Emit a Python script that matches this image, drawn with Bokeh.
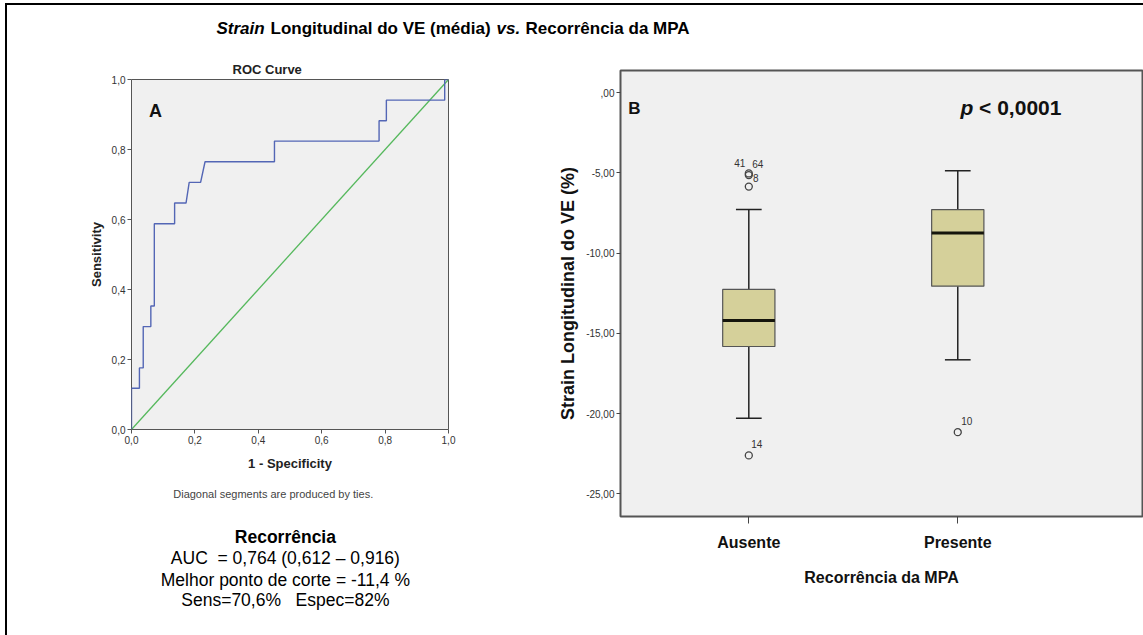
from bokeh.plotting import figure
from bokeh.layouts import column, row
from bokeh.models import (Range1d, FixedTicker, CustomJSTickFormatter, Label, Title,
                          ColumnDataSource, Div, Spacer)
from bokeh.core.properties import value
from bokeh.embed import file_html
from bokeh.resources import INLINE

FONT = "Liberation Sans"
PANEL_BG = "#f0f0f0"

# ---- ROC curve: 1 - specificity vs. sensitivity ----
roc_fpr = [0.0, 0.0, 0.025, 0.025, 0.037, 0.037, 0.061, 0.061, 0.072, 0.072,
           0.136, 0.136, 0.172, 0.182, 0.218, 0.232, 0.451, 0.451, 0.781, 0.781,
           0.804, 0.804, 0.988, 0.988, 1.0]
roc_tpr = [0.0, 0.118, 0.118, 0.176, 0.176, 0.294, 0.294, 0.353, 0.353, 0.588,
           0.588, 0.647, 0.647, 0.706, 0.706, 0.765, 0.765, 0.824, 0.824, 0.882,
           0.882, 0.941, 0.941, 1.0, 1.0]
chance_x = [0.0, 1.0]
chance_y = [0.0, 1.0]
roc_ticks = [0.0, 0.2, 0.4, 0.6, 0.8, 1.0]

# ---- Box plot: LV longitudinal strain by MPA recurrence ----
groups = ["Ausente", "Presente"]
whisker_low = [-20.29, -16.65]
box_q1 = [-15.82, -12.06]
box_median = [-14.20, -8.75]
box_q3 = [-12.26, -7.28]
whisker_high = [-7.28, -4.86]
outlier_group = ["Ausente", "Ausente", "Ausente", "Ausente", "Presente"]
outlier_value = [-5.03, -5.13, -5.85, -22.61, -21.16]
outlier_case = ["41", "64", "8", "14", "10"]
strain_ticks = [0, -5, -10, -15, -20, -25]

# case-number label placement (pixels)
case_dx = [-9, 9, 7, 8, 9]
case_dy = [-10, -11, -9, -11, -11]

BOX_W = 0.25
CAP_W = 0.123

LEFT_W = 548
RIGHT_W = 1136 - LEFT_W

# ======================= ROC panel =======================
roc = figure(width=LEFT_W, height=435, x_range=Range1d(0, 1), y_range=Range1d(0, 1),
             output_backend="svg", toolbar_location=None,
             min_border_left=124, min_border_right=LEFT_W - 441, min_border_top=29,
             min_border_bottom=56, background_fill_color=PANEL_BG,
             border_fill_color="white", outline_line_color="#555",
             outline_line_width=1)
roc.title = Title(text="ROC Curve", align="left", offset=101, standoff=6,
                  text_font=FONT, text_font_size="13px", text_font_style="bold",
                  text_color="#222")
roc.grid.visible = False
roc.line(chance_x, chance_y, line_color="#55b85c", line_width=1.3)
roc.line(roc_fpr, roc_tpr, line_color="#5366b5", line_width=1.4)

for ax in (roc.xaxis[0], roc.yaxis[0]):
    ax.ticker = FixedTicker(ticks=roc_ticks)
    ax.formatter = CustomJSTickFormatter(code="return tick.toFixed(1).replace('.', ',');")
    ax.minor_tick_line_color = None
    ax.axis_line_color = None
    ax.major_tick_in = 0
    ax.major_tick_out = 4
    ax.major_tick_line_color = "#555"
    ax.major_label_text_font = FONT
    ax.major_label_text_font_size = "10px"
    ax.major_label_text_color = "#333"
    ax.major_label_standoff = 2
    ax.axis_label_text_font = FONT
    ax.axis_label_text_font_style = "bold"
    ax.axis_label_text_font_size = "13px"
    ax.axis_label_text_color = "#222"
roc.xaxis.axis_label = "1 - Specificity"
roc.yaxis.axis_label = "Sensitivity"
roc.xaxis.axis_label_standoff = 9
roc.yaxis.axis_label_standoff = 5

roc.add_layout(Label(x=0.076, y=0.911, text="A", text_align="center",
                     text_baseline="middle", text_font=FONT, text_font_size="18px",
                     text_font_style="bold", text_color="#111"))

# ======================= notes under the ROC panel =======================
notes = figure(width=LEFT_W, height=150, x_range=Range1d(0, LEFT_W), y_range=Range1d(150, 0),
               output_backend="svg", toolbar_location=None, min_border=0,
               x_axis_location=None, y_axis_location=None,
               outline_line_color=None, background_fill_color="white",
               border_fill_color="white")
notes.grid.visible = False
notes.add_layout(Label(x=245, y=8, text="Diagonal segments are produced by ties.",
                       text_align="center", text_baseline="middle", text_font=FONT,
                       text_font_size="11px", text_color="#444"))
summary_lines = ["Recorrência",
                 "AUC\u00a0 = 0,764 (0,612 – 0,916)",
                 "Melhor ponto de corte = -11,4 %",
                 "Sens=70,6%\u00a0\u00a0\u00a0Espec=82%"]
summary_y = [51.7, 72.3, 94, 114]
for i, (txt, yy) in enumerate(zip(summary_lines, summary_y)):
    notes.add_layout(Label(x=266, y=yy, text=txt, text_align="center",
                           text_baseline="middle", text_font=FONT,
                           text_font_size="17.5px",
                           text_font_style="bold" if i == 0 else "normal",
                           text_color="#000"))

# ======================= box-plot panel =======================
pos = [i + 1 for i in range(len(groups))]
box = figure(width=RIGHT_W, height=585, x_range=Range1d(0.386, 2.884),
             y_range=Range1d(-26.42, 1.39), output_backend="svg",
             toolbar_location=None, min_border_left=65, min_border_right=RIGHT_W - 65 - 522,
             min_border_top=20, min_border_bottom=119,
             background_fill_color=PANEL_BG, border_fill_color="white",
             outline_line_color="#555", outline_line_width=2)
box.grid.visible = False

stats = ColumnDataSource(dict(
    x=pos, low=whisker_low, q1=box_q1, med=box_median, q3=box_q3, high=whisker_high,
    cap0=[p - CAP_W / 2 for p in pos], cap1=[p + CAP_W / 2 for p in pos],
    m0=[p - BOX_W / 2 for p in pos], m1=[p + BOX_W / 2 for p in pos]))

box.segment(x0="x", y0="q3", x1="x", y1="high", source=stats, line_color="#222", line_width=1.5)
box.segment(x0="x", y0="q1", x1="x", y1="low", source=stats, line_color="#222", line_width=1.5)
box.segment(x0="cap0", y0="high", x1="cap1", y1="high", source=stats, line_color="#222", line_width=1.5)
box.segment(x0="cap0", y0="low", x1="cap1", y1="low", source=stats, line_color="#222", line_width=1.5)
box.vbar(x="x", width=BOX_W, bottom="q1", top="q3", source=stats,
         fill_color="#d5d09a", line_color="#555", line_width=1.2)
box.segment(x0="m0", y0="med", x1="m1", y1="med", source=stats, line_color="#15150c", line_width=3)

out_src = ColumnDataSource(dict(
    x=[groups.index(g) + 1 for g in outlier_group], y=outlier_value,
    case=outlier_case, dx=case_dx, dy=case_dy))
box.scatter(x="x", y="y", source=out_src, marker="circle", size=7,
            fill_color=None, line_color="#444", line_width=1.3)
box.text(x="x", y="y", text="case", source=out_src, x_offset="dx", y_offset="dy",
         text_align="center", text_baseline="middle", text_font=value(FONT),
         text_font_size="10px", text_color="#333")

xa = box.xaxis[0]
xa.ticker = FixedTicker(ticks=pos)
xa.formatter = CustomJSTickFormatter(args=dict(names=groups),
                                     code="return names[Math.round(tick) - 1];")
xa.major_tick_in = 0
xa.major_tick_out = 7
xa.major_label_standoff = 10
xa.major_label_text_font_size = "16px"
xa.axis_label = "Recorrência da MPA"
xa.axis_label_standoff = 15

ya = box.yaxis[0]
ya.ticker = FixedTicker(ticks=strain_ticks)
ya.formatter = CustomJSTickFormatter(
    code="if (tick == 0) { return ',00'; } return tick.toFixed(2).replace('.', ',');")
ya.major_tick_in = 0
ya.major_tick_out = 4
ya.major_label_standoff = 2
ya.major_label_text_font_size = "10px"
ya.axis_label = "Strain Longitudinal do VE (%)"
ya.axis_label_standoff = 5

for ax in (xa, ya):
    ax.minor_tick_line_color = None
    ax.axis_line_color = None
    ax.major_tick_line_color = "#444"
    ax.major_label_text_font = FONT
    ax.axis_label_text_font = FONT
    ax.axis_label_text_font_style = "bold"
    ax.axis_label_text_color = "#111"
ya.major_label_text_color = "#333"
xa.major_label_text_color = "#111"
xa.major_label_text_font_style = "bold"
xa.axis_label_text_font_size = "16px"
ya.axis_label_text_font_size = "18px"

box.add_layout(Label(x=0.453, y=-0.96, text="B", text_align="center",
                     text_baseline="middle", text_font=FONT, text_font_size="17px",
                     text_font_style="bold", text_color="#111"))
box.add_layout(Label(x=2.013, y=-0.898, text="p", text_align="left",
                     text_baseline="middle", text_font=FONT, text_font_size="21px",
                     text_font_style="bold italic", text_color="#111"))
box.add_layout(Label(x=2.102, y=-0.898, text="< 0,0001", text_align="left",
                     text_baseline="middle", text_font=FONT, text_font_size="21px",
                     text_font_style="bold", text_color="#111"))

# ======================= heading =======================
head = figure(width=1136, height=45, x_range=Range1d(0, 1136), y_range=Range1d(45, 0),
              output_backend="svg", toolbar_location=None, min_border=0,
              x_axis_location=None, y_axis_location=None,
              outline_line_color=None, background_fill_color="white",
              border_fill_color="white")
head.grid.visible = False
title_parts = [("Strain", "bold italic", 209.0),
               ("Longitudinal do VE (média)", "bold", 263.0),
               ("vs.", "bold italic", 489.0),
               ("Recorrência da MPA", "bold", 518.0)]
for txt, style, xx in title_parts:
    head.add_layout(Label(x=xx, y=23, text=txt, text_align="left",
                          text_baseline="middle", text_font=FONT,
                          text_font_size="17px", text_font_style=style,
                          text_color="#000"))

# ======================= page layout with frame rule =======================
rule_left = Div(width=2, height=632, margin=0, styles={"background-color": "#000"})
rule_top = Div(width=1136, height=2, margin=0, styles={"background-color": "#000"})

inner = column(rule_top, head, row(column(roc, notes), box))
page = column(Spacer(width=1143, height=3),
              row(Spacer(width=5, height=632), rule_left, inner))

open("out.html", "w").write(file_html(page, INLINE))
